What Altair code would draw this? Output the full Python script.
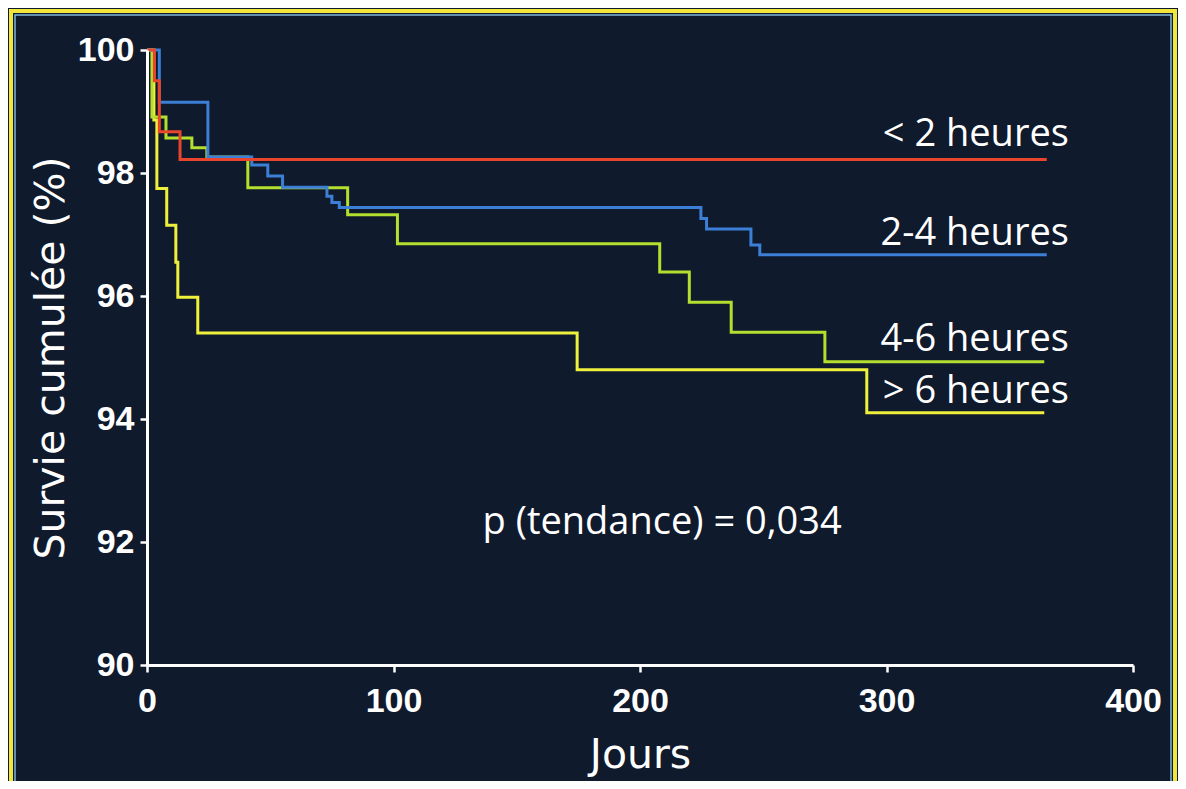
import altair as alt
import pandas as pd

# ---- data (Kaplan-Meier steps) ----
groups = ["> 6 heures", "4-6 heures", "2-4 heures", "< 2 heures"]
colors = ["#eef03c", "#b3e02e", "#3c7fd6", "#e8452c"]

red_days = [0, 3, 5, 13.4, 365]
red_surv = [100, 99.5, 98.67, 98.22, 98.22]

blue_days = [0, 5, 24.7, 42.5, 49, 55, 73, 75, 78, 224.7, 227, 245, 248.6, 365]
blue_surv = [100, 99.15, 98.26, 98.13, 97.95, 97.77, 97.62, 97.52, 97.44,
             97.26, 97.09, 96.83, 96.67, 96.67]

green_days = [0, 2, 7.7, 18.2, 24.3, 40.9, 81.4, 101.6, 208, 220, 237, 275, 364]
green_surv = [100, 98.91, 98.57, 98.41, 98.26, 97.76, 97.32, 96.85, 96.39,
              95.90, 95.41, 94.93, 94.93]

yellow_days = [0, 2.8, 4, 8, 11.7, 12.5, 20.6, 174.5, 292, 364]
yellow_surv = [100, 98.86, 97.75, 97.15, 96.55, 95.98, 95.4, 94.8, 94.1, 94.1]

x_ticks = [0, 100, 200, 300, 400]
y_ticks = [90, 92, 94, 96, 98, 100]

label_texts = ["< 2 heures", "2-4 heures", "4-6 heures", "> 6 heures"]
label_days = [374, 374, 374, 374]
label_surv = [98.62, 97.01, 95.28, 94.44]

p_text = ["p (tendance) = 0,034"]
p_day = [209]
p_surv = [92.31]

# ---- build tables ----
series = {
    "> 6 heures": (yellow_days, yellow_surv),
    "4-6 heures": (green_days, green_surv),
    "2-4 heures": (blue_days, blue_surv),
    "< 2 heures": (red_days, red_surv),
}
rows = []
for g in groups:
    ds, ss = series[g]
    for d, s in zip(ds, ss):
        rows.append({"groupe": g, "jours": d, "survie": s})
df = pd.DataFrame(rows)

labels_df = pd.DataFrame({"texte": label_texts, "jours": label_days, "survie": label_surv})
p_df = pd.DataFrame({"texte": p_text, "jours": p_day, "survie": p_surv})

W, H = 986, 615
PAD = {"left": 139, "top": 42, "right": 45, "bottom": 116}

BG = "#0f1a2c"
TXT_FONT = "Open Sans"
TITLE_FONT = "DejaVu Sans"
NUM_FONT = "Liberation Sans"

axis_style = dict(
    grid=False, zindex=1,
    domainColor="white", domainWidth=3,
    tickColor="white", tickWidth=2.5, tickSize=7,
    labelColor="white", labelFont=NUM_FONT, labelFontWeight="bold", labelFontSize=34,
    titleColor="white", titleFont=TITLE_FONT, titleFontWeight="normal", titleFontSize=41,
    labelOverlap=False, format="d",
)

x_enc = alt.X(
    "jours:Q",
    scale=alt.Scale(domain=[0, 400], nice=False),
    axis=alt.Axis(
        values=x_ticks, title="Jours",
        labelFlush=False, labelPadding=12,
        titleY=90, titleBaseline="middle",
        **axis_style,
    ),
)
y_enc = alt.Y(
    "survie:Q",
    scale=alt.Scale(domain=[90, 100], nice=False, zero=False),
    axis=alt.Axis(
        values=y_ticks, title="Survie cumulée (%)",
        labelPadding=6,
        titleX=-96, titleBaseline="middle", titleAlign="center",
        **axis_style,
    ),
)

# decorative slide frame
frame = alt.Chart(pd.DataFrame({"k": [0]})).mark_rect(
    filled=False, stroke="#f2e63a", strokeWidth=4
).encode(
    x=alt.value(-136), x2=alt.value(W + 42),
    y=alt.value(-39), y2=alt.value(H + 140),
)
inner = alt.Chart(pd.DataFrame({"k": [0]})).mark_rect(
    filled=False, stroke="#7fb6d8", strokeWidth=1.5
).encode(
    x=alt.value(-132), x2=alt.value(W + 38),
    y=alt.value(-35), y2=alt.value(H + 140),
)

lines = alt.Chart(df).mark_line(interpolate="step-after", strokeWidth=3).encode(
    x=x_enc,
    y=y_enc,
    color=alt.Color("groupe:N", scale=alt.Scale(domain=groups, range=colors), legend=None),
    order=alt.Order("jours:Q"),
)

labels = alt.Chart(labels_df).mark_text(
    align="right", baseline="middle", font=TXT_FONT, fontSize=38, color="white"
).encode(x="jours:Q", y="survie:Q", text="texte:N")

ptext = alt.Chart(p_df).mark_text(
    align="center", baseline="middle", font=TXT_FONT, fontSize=38, color="white"
).encode(x="jours:Q", y="survie:Q", text="texte:N")

chart = alt.layer(lines, labels, ptext, frame, inner).properties(
    width=W, height=H, padding=PAD, autosize="none", background=BG
).configure_view(stroke=None)

chart.save("out.html", embed_options={"renderer": "svg", "actions": False})
